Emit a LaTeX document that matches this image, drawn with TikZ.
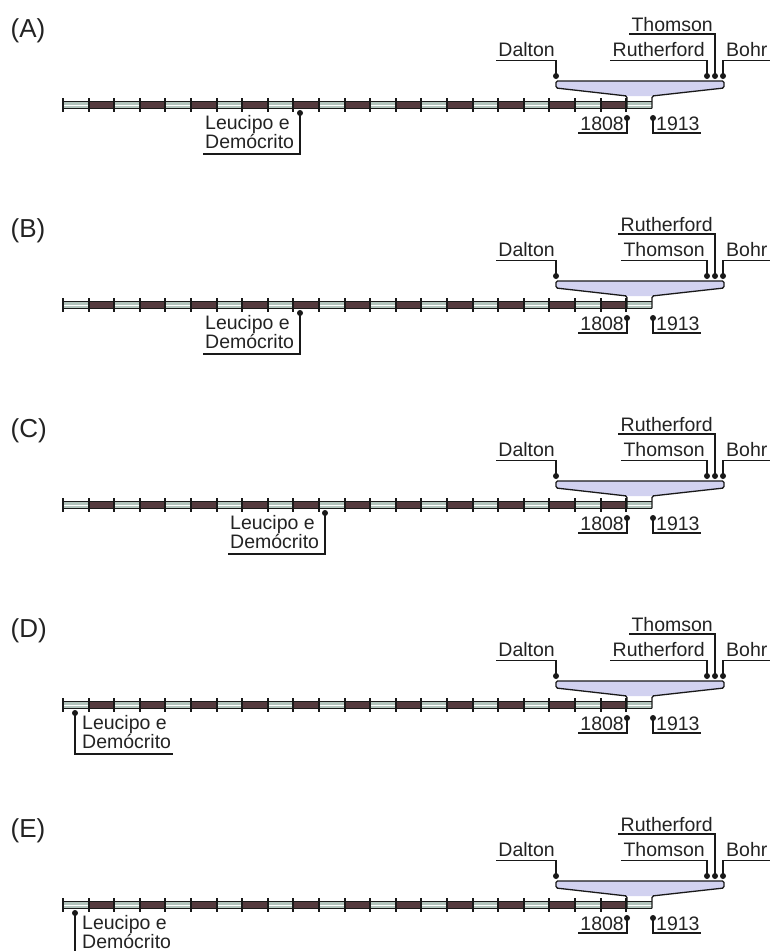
\documentclass[tikz,border=0pt]{standalone}
\usepackage{fontspec}
\setmainfont{Liberation Sans}
\definecolor{tubedark}{RGB}{84,58,62}
\definecolor{tubelight}{RGB}{178,196,188}
\definecolor{trapfill}{RGB}{210,210,240}
\definecolor{ln}{RGB}{25,25,25}
\definecolor{txt}{RGB}{35,35,35}
\tikzset{
  lbl/.style={inner sep=0pt, font=\fontsize{19.5}{17.7}\selectfont, text=txt},
  panlbl/.style={inner sep=0pt, font=\fontsize{26}{28}\selectfont, text=txt},
  pin/.style={circle, fill=ln, inner sep=0pt, minimum size=6pt},
  lead/.style={draw=ln, line width=1.3pt},
  tubeline/.style={draw=ln, line width=1.2pt},
  tickst/.style={draw=ln, line width=2pt},
  trapline/.style={draw=ln, line width=1.3pt, rounded corners=1.5pt},
}
\newcommand\tlpanel[4]{%
\begin{scope}[shift={(0,#2)}]
  \node[panlbl, anchor=base west] (#1lab) at (10.5,-67.5) {(#1)};
  % tube
  \fill[tubelight] (62,-3.3) rectangle (652,3.3);
  \foreach \k in {1,3,...,21}{\fill[tubedark] ({64+25.6*\k},-3) rectangle ({64+25.6*(\k+1)},3);}
  \foreach \k in {0,2,...,22}{\draw[white, line width=0.9pt] ({64+25.6*\k},0) -- ({min(64+25.6*(\k+1),652)},0);}
  \draw[tubeline] (62,-3.3) -- (652,-3.3);
  \draw[tubeline] (62,3.3) -- (652,3.3);
  \foreach \k in {0,...,22}{\draw[tickst] ({63+25.6*\k},-7) -- ({63+25.6*\k},7);}
  % trapezoid
  \fill[trapfill] (556,-24) -- (724,-24) -- (724,-17) -- (652,-9) -- (627,-9) -- (556,-17) -- cycle;
  \draw[trapline] (627,3.3) -- (627,-9) -- (556,-17) -- (556,-24) -- (724,-24) -- (724,-17) -- (652,-9) -- (652,3.3);
  % top pins
  \node[pin] (#1dalp) at (556,-29) {};
  \node[pin] (#1lowp) at (707,-29) {};
  \node[pin] (#1upp) at (715,-29) {};
  \node[pin] (#1bohp) at (723,-29) {};
  \node[lbl, anchor=base east] (#1dal) at (555,-49) {Dalton};
  \node[lbl, anchor=base east] (#1low) at (705,-49) {#4};
  \node[lbl, anchor=base east] (#1up) at (713,-74) {#3};
  \node[lbl, anchor=base west] (#1boh) at (726,-49) {Bohr};
  \draw[lead] (#1dalp.center) |- ([xshift=-2pt,yshift=-4.5pt]#1dal.base west);
  \draw[lead] (#1lowp.center) |- ([xshift=-2pt,yshift=-4.5pt]#1low.base west);
  \draw[lead] (#1upp.center) |- ([xshift=-2pt,yshift=-3pt]#1up.base west);
  \draw[lead] (#1bohp.center) |- ([xshift=2pt,yshift=-4.5pt]#1boh.base east);
  % bottom years
  \node[pin] (#1p1808) at (627,13) {};
  \node[pin] (#1p1913) at (653,13) {};
  \node[lbl, anchor=base east] (#1y1808) at (624,25) {1808};
  \node[lbl, anchor=base west] (#1y1913) at (656,25) {1913};
  \draw[lead] (#1p1808.center) |- ([xshift=-2pt,yshift=-3pt]#1y1808.base west);
  \draw[lead] (#1p1913.center) |- ([xshift=1pt,yshift=-3pt]#1y1913.base east);
\end{scope}}
% Leucipo label to the left of its pin
\newcommand\leuleft[3]{%
\begin{scope}[shift={(0,#2)}]
  \node[pin] (#1leup) at (#3,8) {};
  \node[lbl, align=left, anchor=south west] (#1leu) at ({#3-95},44) {Leucipo e\\Demócrito};
  \draw[lead] (#1leup.center) |- ([xshift=-2pt,yshift=-5pt]#1leu.south west);
\end{scope}}
% Leucipo label to the right of its pin
\newcommand\leuright[3]{%
\begin{scope}[shift={(0,#2)}]
  \node[pin] (#1leup) at (#3,8) {};
  \node[lbl, align=left, anchor=south west] (#1leu) at ({#3+7},44) {Leucipo e\\Demócrito};
  \draw[lead] (#1leup.center) |- ([xshift=2pt,yshift=-5pt]#1leu.south east);
\end{scope}}
\begin{document}
\begin{tikzpicture}[x=1pt, y=-1pt]
  \useasboundingbox (0,0) rectangle (770,951);
  \clip (0,0) rectangle (770,951);
  \fill[white] (0,0) rectangle (770,951);
  \tlpanel{A}{105}{Thomson}{Rutherford}
  \leuleft{A}{105}{300}
  \tlpanel{B}{305}{Rutherford}{Thomson}
  \leuleft{B}{305}{300}
  \tlpanel{C}{505}{Rutherford}{Thomson}
  \leuleft{C}{505}{325}
  \tlpanel{D}{705}{Thomson}{Rutherford}
  \leuright{D}{705}{75}
  \tlpanel{E}{905}{Rutherford}{Thomson}
  \leuright{E}{905}{75}
\end{tikzpicture}
\end{document}
